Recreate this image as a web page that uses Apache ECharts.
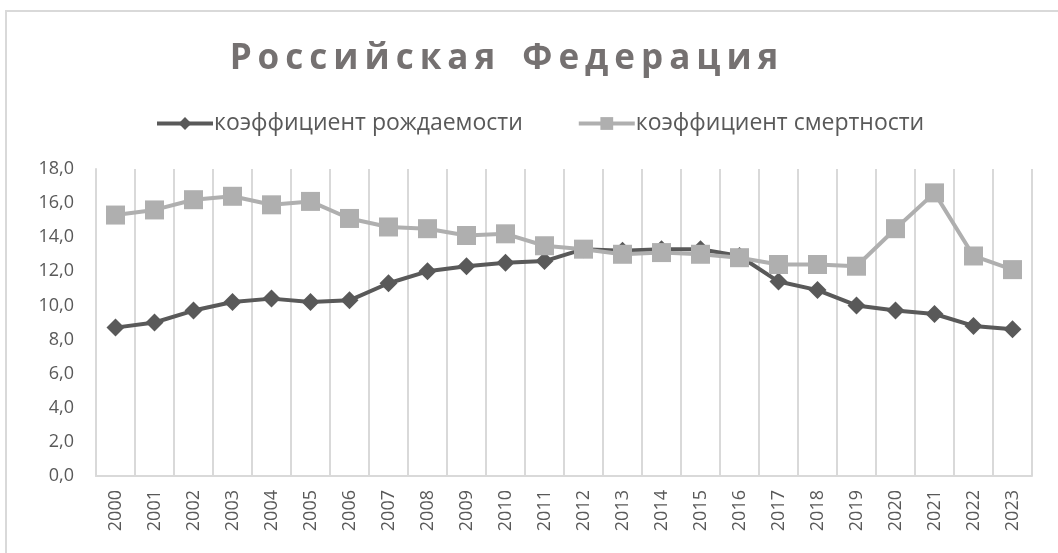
<!DOCTYPE html>
<html>
<head>
<meta charset="utf-8">
<script src="https://cdn.jsdelivr.net/npm/echarts@6/dist/echarts.min.js"></script>
<style>
  html, body { margin: 0; padding: 0; background: #fff; }
  .frame {
    position: absolute; left: 5px; top: 10px; width: 1060px; height: 560px;
    border-top: 2px solid #d9d9d9; border-left: 2px solid #d9d9d9;
  }
  .title {
    position: absolute; left: -22px; width: 1058px; top: 32px; text-align: center;
    font-family: "Open Sans", "Liberation Sans", sans-serif; font-weight: bold;
    font-size: 35px; letter-spacing: 6px; word-spacing: 6px; color: #757171;
  }
  #chart { position: absolute; left: 0; top: 0; width: 1058px; height: 553px; }
</style>
</head>
<body>
<div class="frame"></div>
<div id="chart"></div>
<div class="title">Российская Федерация</div>
<script>
// годы и коэффициенты (на 1000 человек)
const years = ['2000', '2001', '2002', '2003', '2004', '2005', '2006', '2007', '2008', '2009', '2010', '2011',
  '2012', '2013', '2014', '2015', '2016', '2017', '2018', '2019', '2020', '2021', '2022', '2023']
const birthRate = [8.7, 9.0, 9.7, 10.2, 10.4, 10.2, 10.3, 11.3, 12.0, 12.3, 12.5, 12.6,
  13.3, 13.2, 13.3, 13.3, 12.9, 11.4, 10.9, 10.0, 9.7, 9.5, 8.8, 8.6]
const deathRate = [15.3, 15.6, 16.2, 16.4, 15.9, 16.1, 15.1, 14.6, 14.5, 14.1, 14.2, 13.5,
  13.3, 13.0, 13.1, 13.0, 12.8, 12.4, 12.4, 12.3, 14.5, 16.6, 12.9, 12.1]

const chart = echarts.init(document.getElementById('chart'))

chart.setOption({
  backgroundColor: 'transparent',
  animation: false,
  textStyle: { fontFamily: 'Open Sans, Liberation Sans, sans-serif' },
  legend: {
    top: 107,
    left: 150,
    itemGap: 54,
    itemWidth: 56,
    itemHeight: 16,
    lineStyle: { width: 4 },
    textStyle: { color: '#595959', fontSize: 23, padding: [0, 0, 0, -4] },
    data: ['коэффициент рождаемости', 'коэффициент смертности']
  },
  grid: { left: 96, right: 26, top: 169, bottom: 77 },
  xAxis: {
    type: 'category',
    data: years,
    boundaryGap: true,
    axisLine: { lineStyle: { color: '#d9d9d9', width: 2 } },
    axisTick: { show: false },
    splitLine: { show: true, interval: 0, lineStyle: { color: '#d9d9d9', width: 2 } },
    axisLabel: { interval: 0, rotate: 90, color: '#595959', fontSize: 18, margin: 14 }
  },
  yAxis: {
    type: 'value',
    min: 0,
    max: 18,
    interval: 2,
    axisLine: { show: true, lineStyle: { color: '#d9d9d9', width: 2 } },
    axisTick: { show: false },
    splitLine: { show: false },
    axisLabel: {
      color: '#595959', fontSize: 18, margin: 22,
      formatter: (v) => v.toFixed(1).replace('.', ',')
    }
  },
  series: [
    {
      name: 'коэффициент рождаемости',
      type: 'line',
      data: birthRate,
      symbol: 'diamond',
      symbolSize: 18,
      z: 3,
      lineStyle: { color: '#595959', width: 4 },
      itemStyle: { color: '#595959' }
    },
    {
      name: 'коэффициент смертности',
      type: 'line',
      data: deathRate,
      symbol: 'rect',
      symbolSize: 19,
      z: 4,
      lineStyle: { color: '#afafaf', width: 4 },
      itemStyle: { color: '#afafaf' }
    }
  ]
})
</script>
</body>
</html>
